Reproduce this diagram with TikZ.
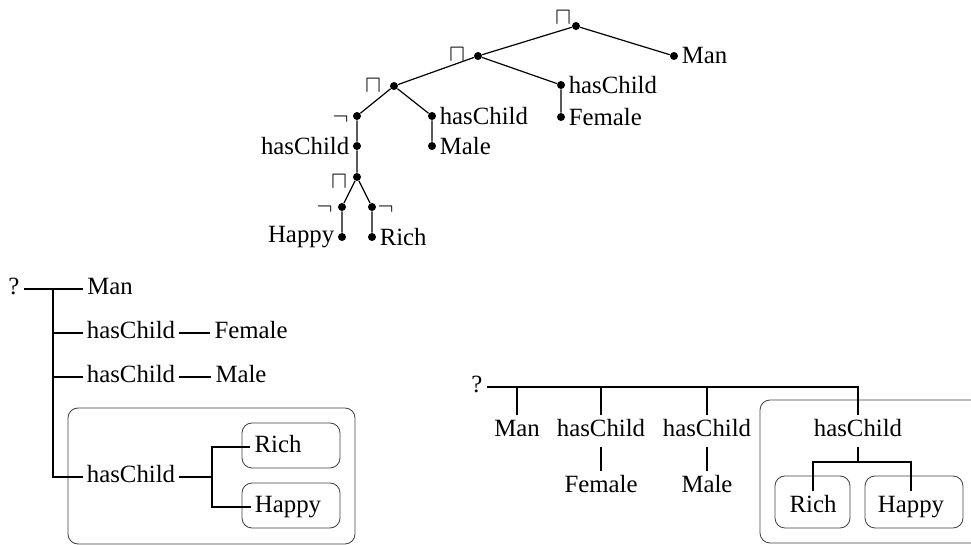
\documentclass[tikz,border=0pt]{standalone}
\usepackage{fontspec}
\setmainfont{Liberation Serif}
\tikzset{
  dot/.style={circle, fill, inner sep=0pt, minimum size=4pt},
  txt/.style={inner sep=2pt, text height=8.5pt, text depth=2.7pt},
  op/.style={inner sep=0pt},
  every label/.style={inner sep=1.5pt},
  edge/.style={semithick},
  branch/.style={line width=1.1pt},
  frame/.style={draw=black!75, rounded corners=5pt, line width=0.4pt},
}
\begin{document}
\begin{tikzpicture}[x=0.5pt, y=-0.5pt, font=\fontsize{12.4pt}{15pt}\selectfont]
  \useasboundingbox (0,0) rectangle (971,545);
  \clip (0,0) rectangle (971,545);
  % Syntax tree
  \node[dot] (and1) at (576,26) {};
  \node[dot, label=right:Man] (man) at (674,56) {};
  \node[dot] (and2) at (478,56) {};
  \node[dot, label=right:hasChild] (hc1) at (561,85) {};
  \node[dot, label=right:Female] (female) at (561,117) {};
  \node[dot] (and3) at (394,86) {};
  \node[dot, label=right:hasChild] (hc2) at (432,116) {};
  \node[dot, label=right:Male] (male) at (432,146) {};
  \node[dot] (neg1) at (357,116) {};
  \node[dot, label=left:hasChild] (hc3) at (357,146) {};
  \node[dot] (and4) at (357,177) {};
  \node[dot] (neg2) at (342,207) {};
  \node[dot] (neg3) at (372,207) {};
  \node[dot, label=left:Happy] (happy) at (342,237) {};
  \node[dot, label=right:Rich] (rich) at (372,237) {};
  % operators
  \node[op] (and1op) at (563,17.5) {$\sqcap$};
  \node[op] (and2op) at (457,55) {$\sqcap$};
  \node[op] (and3op) at (373,86) {$\sqcap$};
  \node[op] (and4op) at (339,181.5) {$\sqcap$};
  \node[op] (neg1op) at (340.5,119) {$\neg$};
  \node[op] (neg2op) at (324.5,209.5) {$\neg$};
  \node[op] (neg3op) at (385.5,209.5) {$\neg$};
  \draw[edge] (and1) -- (man);
  \draw[edge] (and1) -- (and2);
  \draw[edge] (and2) -- (hc1) -- (female);
  \draw[edge] (and2) -- (and3);
  \draw[edge] (and3) -- (hc2) -- (male);
  \draw[edge] (and3) -- (neg1) -- (hc3) -- (and4);
  \draw[edge] (and4) -- (neg2) -- (happy);
  \draw[edge] (and4) -- (neg3) -- (rich);
  % Horizontal layout
  \node[frame, minimum width=143.5pt, minimum height=68pt] (boxL) at (211.5,476) {};
  \node[frame, minimum width=49pt, minimum height=22.5pt] (richboxL) at (291,445.5) {};
  \node[frame, minimum width=49pt, minimum height=22.5pt] (happyboxL) at (291,505.5) {};
  \node[txt] (qL) at (14,289) {?};
  \node[txt] (manL) at (110,289) {Man};
  \node[txt] (hcL1) at (131,333) {hasChild};
  \node[txt] (femL) at (251,333) {Female};
  \node[txt] (hcL2) at (131,377) {hasChild};
  \node[txt] (maleL) at (241,377) {Male};
  \node[txt] (hcL3) at (131,477) {hasChild};
  \node[txt] (richL) at (278,447) {Rich};
  \node[txt] (happyL) at (288,507) {Happy};
  \coordinate (trunkL) at (53,289);
  \coordinate (splitL) at (212,477);
  \draw[branch] (qL) -- (manL);
  \draw[branch] (trunkL) |- (hcL3);
  \draw[branch] (trunkL |- hcL1) -- (hcL1);
  \draw[branch] (trunkL |- hcL2) -- (hcL2);
  \draw[branch] (hcL1) -- (femL);
  \draw[branch] (hcL2) -- (maleL);
  \draw[branch] (hcL3) -- (splitL);
  \draw[branch] (richL.west) -| (splitL) |- (happyL.west);
  % Vertical layout
  \node[frame, minimum width=125pt, minimum height=71.5pt] (boxR) at (885,471.5) {};
  \node[frame, minimum width=37.5pt, minimum height=26pt] (richboxR) at (812.5,502) {};
  \node[frame, minimum width=49pt, minimum height=26pt] (happyboxR) at (914,502) {};
  \node[txt] (qR) at (477,387) {?};
  \node[txt] (manR) at (517,431) {Man};
  \node[txt] (hcR1) at (601,431) {hasChild};
  \node[txt] (hcR2) at (707,431) {hasChild};
  \node[txt] (hcR3) at (858,431) {hasChild};
  \node[txt] (femR) at (601,487) {Female};
  \node[txt] (maleR) at (707,487) {Male};
  \node[txt] (richR) at (813,507) {Rich};
  \node[txt] (happyR) at (911,507) {Happy};
  \coordinate (splitR) at (858,462);
  \draw[branch] (qR.east) -| (hcR3.north);
  \draw[branch] (manR.north) -- (manR.north |- qR.east);
  \draw[branch] (hcR1.north) -- (hcR1.north |- qR.east);
  \draw[branch] (hcR2.north) -- (hcR2.north |- qR.east);
  \draw[branch] (hcR1) -- (femR);
  \draw[branch] (hcR2) -- (maleR);
  \draw[branch] (hcR3) -- (splitR);
  \draw[branch] (richR.north) |- (splitR) -| (happyR.north);
\end{tikzpicture}
\end{document}
